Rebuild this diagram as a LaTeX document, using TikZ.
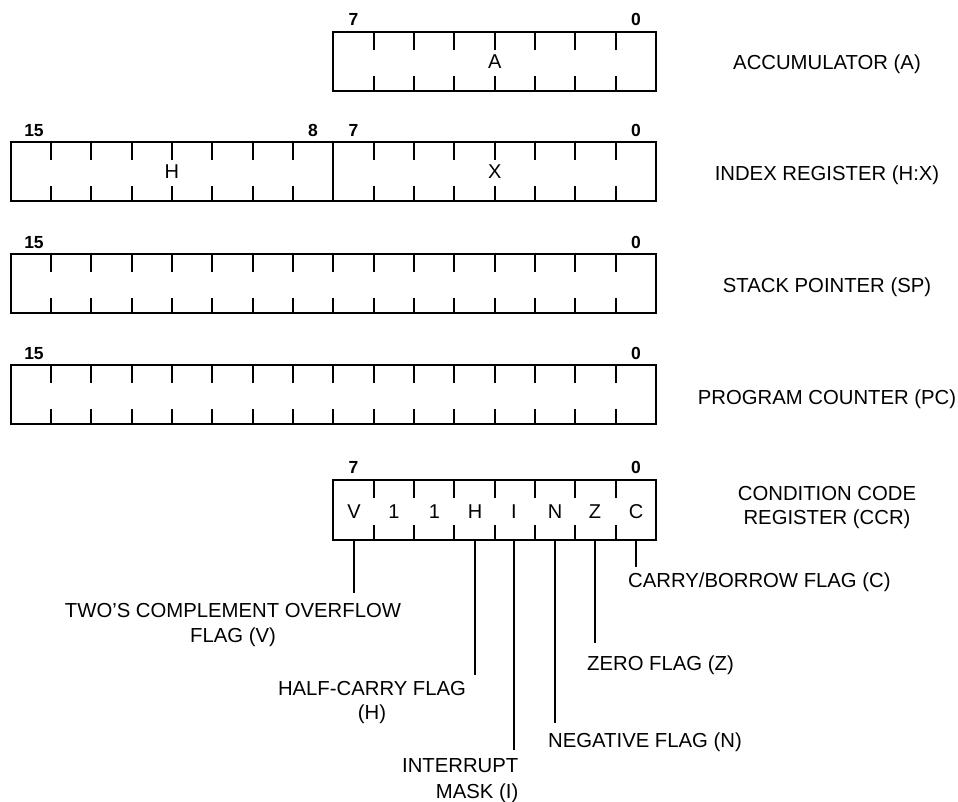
\documentclass[tikz,border=0pt]{standalone}
\usepackage{fontspec}
\setmainfont{Liberation Sans}
\usetikzlibrary{calc}
\newcommand\myregticks[2]{%
  \foreach \i in {1,...,#2} {%
    \draw[tick] ($(#1.north west)+(\i*40.35,0)$) -- ++(0,17.5);
    \draw[tick] ($(#1.south west)+(\i*40.35,0)$) -- ++(0,-15.5);
  }%
}
\begin{document}
\begin{tikzpicture}[x=1pt,y=-1pt,
  reg/.style={draw, line width=2pt, inner sep=0pt, outer sep=0pt, minimum height=59pt},
  bitnum/.style={font=\fontsize{17.5}{20}\selectfont\bfseries, inner sep=0pt, text height=12.5pt, text depth=0pt},
  cell/.style={font=\fontsize{20}{24}\selectfont, inner sep=0pt, text height=14.3pt, text depth=0pt},
  lbl/.style={font=\fontsize{20.3}{25}\selectfont, inner sep=0pt},
  lead/.style={line width=1.9pt},
  tick/.style={line width=2pt}]
\path[use as bounding box, fill=white] (0,0) rectangle (958,801);

% Accumulator
\node[reg, minimum width=322.8pt] (regA) at (494.7,61.5) {};
\myregticks{regA}{7}
\node[cell] (cA) at (regA.center) {A};
\node[bitnum] (nA7) at (353.5,19) {7};
\node[bitnum] (nA0) at (636,19) {0};
\node[lbl, anchor=base] (tA) at (827,69) {ACCUMULATOR (A)};

% Index register
\node[reg, minimum width=322.8pt] (regH) at (171.9,171.5) {};
\node[reg, minimum width=322.8pt] (regX) at (494.7,171.5) {};
\myregticks{regH}{7}
\myregticks{regX}{7}
\node[cell] (cH) at (regH.center) {H};
\node[cell] (cX) at (regX.center) {X};
\node[bitnum] (nH15) at (34,130) {15};
\node[bitnum] (nH8) at (313,130) {8};
\node[bitnum] (nX7) at (353.5,130) {7};
\node[bitnum] (nX0) at (636,130) {0};
\node[lbl, anchor=base] (tHX) at (827,180) {INDEX REGISTER (H:X)};

% Stack pointer
\node[reg, minimum width=645.6pt] (regSP) at (333.3,283.5) {};
\myregticks{regSP}{15}
\node[bitnum] (nS15) at (34,242) {15};
\node[bitnum] (nS0) at (636,242) {0};
\node[lbl, anchor=base] (tSP) at (827,292) {STACK POINTER (SP)};

% Program counter
\node[reg, minimum width=645.6pt] (regPC) at (333.3,394.5) {};
\myregticks{regPC}{15}
\node[bitnum] (nP15) at (34,353) {15};
\node[bitnum] (nP0) at (636,353) {0};
\node[lbl, anchor=base] (tPC) at (827,404) {PROGRAM COUNTER (PC)};

% Condition code register
\node[reg, minimum width=322.8pt, minimum height=60pt] (ccr) at (494.7,510) {};
\myregticks{ccr}{7}
\node[bitnum] (nC7) at (353.5,467) {7};
\node[bitnum] (nC0) at (636,467) {0};
\node[cell] (bV) at (354,511) {V};
\node[cell] (b6) at (394,511) {1};
\node[cell] (b5) at (434.5,511) {1};
\node[cell] (bH) at (475,511) {H};
\node[cell] (bI) at (514,511) {I};
\node[cell] (bN) at (555,511) {N};
\node[cell] (bZ) at (595,511) {Z};
\node[cell] (bC) at (636,511) {C};
\node[lbl, align=center, anchor=north, font=\fontsize{20.3}{24}\selectfont] (tCCR) at (827,486.5) {CONDITION CODE\\REGISTER (CCR)};

% Flag labels
\node[lbl, align=center, anchor=north] (lV) at (233,603) {TWO’S COMPLEMENT OVERFLOW\\FLAG (V)};
\node[lbl, align=center, anchor=north, font=\fontsize{20.3}{24}\selectfont] (lH) at (372,681) {HALF-CARRY FLAG\\(H)};
\node[lbl, align=right, anchor=north east, font=\fontsize{20.3}{26.5}\selectfont] (lI) at (518.5,758) {INTERRUPT\\MASK (I)};
\node[lbl, anchor=north west] (lN) at (548,733) {NEGATIVE FLAG (N)};
\node[lbl, anchor=north west] (lZ) at (587,656) {ZERO FLAG (Z)};
\node[lbl, anchor=north west] (lC) at (628,573) {CARRY/BORROW FLAG (C)};

% Leader lines
\draw[lead, shorten >=10pt] (bV |- ccr.south) -- (lV.north -| bV);
\draw[lead, shorten >=6pt] (bH |- ccr.south) -- (lH.north -| bH);
\draw[lead, shorten >=8pt] (bI |- ccr.south) -- (lI.north -| bI);
\draw[lead, shorten >=10pt] (bN |- ccr.south) -- (lN.north -| bN);
\draw[lead, shorten >=13pt] (bZ |- ccr.south) -- (lZ.north -| bZ);
\draw[lead, shorten >=6pt] (bC |- ccr.south) -- (lC.north -| bC);
\end{tikzpicture}
\end{document}
